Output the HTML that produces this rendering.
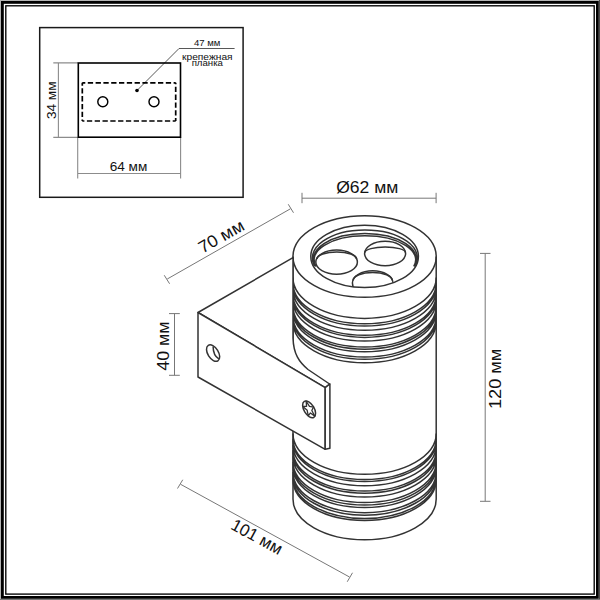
<!DOCTYPE html>
<html><head><meta charset="utf-8"><style>
html,body{margin:0;padding:0;background:#fff;width:600px;height:600px;overflow:hidden}
svg{display:block}
text{font-family:"Liberation Sans",sans-serif;fill:#111}
</style></head><body>
<svg width="600" height="600" viewBox="0 0 600 600">
<defs>
<clipPath id="open"><ellipse cx="364.6" cy="256.4" rx="53.8" ry="31.1"/></clipPath>
</defs>
<rect x="0" y="0" width="600" height="600" fill="#fff"/>
<rect x="0" y="0" width="600" height="1" fill="#b4b4b4"/>
<rect x="0" y="0" width="1" height="600" fill="#b4b4b4"/>
<rect x="599" y="0" width="1" height="600" fill="#4a4a4a"/>
<rect x="0" y="599" width="600" height="1" fill="#7a7a7a"/>
<rect x="2.4" y="2.4" width="595" height="595" fill="none" stroke="#000" stroke-width="2.8"/>
<rect x="5.8" y="5.8" width="588.4" height="588.3" fill="none" stroke="#000" stroke-width="1.35"/>

<g id="inset">
<rect x="39.7" y="27.6" width="203.4" height="169.7" fill="none" stroke="#1a1a1a" stroke-width="1.5"/>
<g stroke="#8c8c8c" stroke-width="1.1" fill="none">
 <path d="M53.3 62.9H78M53.3 137.4H78M58.4 62.4V137.6"/>
 <path d="M77.7 137V178.6M180.6 137V178.6M78 173.5H180.6"/>
</g>
<path d="M137 90.5L179 48.5H234.6" stroke="#444" stroke-width="0.9" fill="none"/>
<rect x="78.3" y="63" width="102.2" height="74.2" fill="none" stroke="#000" stroke-width="1.6"/>
<path d="M82.3 82.8H175.7M82.3 82.8V121M175.7 121H82.3M175.7 121V82.8" fill="none" stroke="#000" stroke-width="1.7" stroke-dasharray="5.3 2.5" stroke-dashoffset="2.3"/>
<circle cx="102.8" cy="101.8" r="5" fill="none" stroke="#000" stroke-width="1.45"/>
<circle cx="154" cy="101.8" r="5" fill="none" stroke="#000" stroke-width="1.45"/>
<circle cx="137" cy="90.5" r="1.8" fill="#000"/>
<text x="207.1" y="45.9" font-size="9.2" text-anchor="middle" textLength="26.4" lengthAdjust="spacingAndGlyphs">47 мм</text>
<text x="207.3" y="59.5" font-size="9.3" text-anchor="middle" textLength="50.6" lengthAdjust="spacingAndGlyphs">крепежная</text>
<text x="207.3" y="66.4" font-size="9.3" text-anchor="middle" textLength="31.3" lengthAdjust="spacingAndGlyphs">планка</text>
<text x="128.5" y="171" font-size="13.6" text-anchor="middle">64 мм</text>
<text transform="translate(55.9 100.3) rotate(-90)" font-size="13.6" text-anchor="middle">34 мм</text>
</g>

<g stroke="#777" stroke-width="1" fill="none">
 <path d="M167.25 279L290.5 208.75M164.25 275.25L169.6 283.75M288.25 204.25L293.5 212.75"/>
 <path d="M302 198.2H436.1M302 192.8V203.2M436.1 192.8V203.2"/>
 <path d="M174.5 313.6V375.3M169 313.6H179.8M169 375.3H179.8"/>
 <path d="M485.2 253.4V501.3M480 253.4H490.5M480 501.3H490.5"/>
 <path d="M180.5 484.25L349.5 577M182.75 479.75L177.5 488.5M352.5 572.75L347.25 581.75"/>
</g>
<text x="367.3" y="192.5" font-size="17" text-anchor="middle" textLength="62.2" lengthAdjust="spacingAndGlyphs">Ø62 мм</text>
<text transform="translate(224 241.5) rotate(-29.7)" font-size="17" text-anchor="middle" textLength="49.8" lengthAdjust="spacingAndGlyphs">70 мм</text>
<text transform="translate(169 346.1) rotate(-90)" font-size="17" text-anchor="middle" textLength="49.3" lengthAdjust="spacingAndGlyphs">40 мм</text>
<text transform="translate(500.8 378.85) rotate(-90)" font-size="17" text-anchor="middle" textLength="60.4" lengthAdjust="spacingAndGlyphs">120 мм</text>
<text transform="translate(254.1 541.8) rotate(28.76)" font-size="17" text-anchor="middle" textLength="55.8" lengthAdjust="spacingAndGlyphs">101 мм</text>

<g id="cyl" stroke="#333" stroke-width="1.5" fill="none">
 <path d="M293 256.5V499A71.6 40.8 0 0 0 436.2 499V256.5"/>
 <ellipse cx="364.6" cy="256.5" rx="71.6" ry="40.8"/>
 <ellipse cx="364.6" cy="256.4" rx="53.8" ry="31.1"/>
 <path d="M314.43 266.00A52.5 28.3 0 1 1 415.37 266.00M315.59 266.28A51.3 25.7 0 1 1 414.21 266.28M316.07 266.29A50.8 23.9 0 1 1 413.73 266.29"/>
 <path d="M293.00 277.60A71.6 40.8 0 0 0 436.20 277.60M293.00 282.95A71.6 40.8 0 0 0 436.20 282.95M293.00 285.30A71.6 40.8 0 0 0 436.20 285.30M293.00 289.45A71.6 40.8 0 0 0 436.20 289.45M293.00 294.45A71.6 40.8 0 0 0 436.20 294.45M293.00 296.60A71.6 40.8 0 0 0 436.20 296.60M293.00 300.20A71.6 40.8 0 0 0 436.20 300.20M293.00 306.20A71.6 40.8 0 0 0 436.20 306.20M293.00 308.40A71.6 40.8 0 0 0 436.20 308.40M293.00 310.95A71.6 40.8 0 0 0 436.20 310.95M293.00 316.20A71.6 40.8 0 0 0 436.20 316.20M293.00 318.45A71.6 40.8 0 0 0 436.20 318.45M293.00 322.00A71.6 40.8 0 0 0 436.20 322.00"/>
 <path d="M293.00 433.45A71.6 40.8 0 0 0 436.20 433.45M293.00 438.70A71.6 40.8 0 0 0 436.20 438.70M293.00 440.80A71.6 40.8 0 0 0 436.20 440.80M293.00 444.95A71.6 40.8 0 0 0 436.20 444.95M293.00 450.20A71.6 40.8 0 0 0 436.20 450.20M293.00 452.40A71.6 40.8 0 0 0 436.20 452.40M293.00 456.20A71.6 40.8 0 0 0 436.20 456.20M293.00 461.70A71.6 40.8 0 0 0 436.20 461.70M293.00 464.20A71.6 40.8 0 0 0 436.20 464.20M293.00 466.70A71.6 40.8 0 0 0 436.20 466.70M293.00 471.90A71.6 40.8 0 0 0 436.20 471.90M293.00 474.40A71.6 40.8 0 0 0 436.20 474.40M293.00 477.70A71.6 40.8 0 0 0 436.20 477.70M293.00 479.70A71.6 40.8 0 0 0 436.20 479.70"/>
 <ellipse cx="336.6" cy="262.1" rx="20.8" ry="12.1"/>
 <path d="M317 259A19.8 7 0 0 1 356.6 259"/>
 <ellipse cx="385.1" cy="253.5" rx="20.5" ry="12.3"/>
 <path d="M365 252.5A20.2 5.5 0 0 1 405.4 252.5"/>
 <g clip-path="url(#open)">
  <ellipse cx="372.7" cy="283" rx="20.3" ry="12.3"/>
  <path d="M353.1 280.5A19.6 8.1 0 0 1 392.3 280.5"/>
 </g>
</g>

<g id="bracket" stroke="#333" stroke-width="1.5" stroke-linejoin="round">
 <path d="M198 312.5L293 257.7V338C293.5 354 299 362 308 369.5L329.6 384L325.2 387.6Z" fill="#fff"/>
 <path d="M198 312.5L325.2 387.6V449.3L198 377Z" fill="#fff"/>
 <path d="M325.2 387.6L329.9 384V448.2L325.2 449.3Z" fill="#fff"/>
 <g transform="translate(213.1 353.1) rotate(-32)">
  <ellipse cx="0" cy="0" rx="5.3" ry="9.1" fill="none"/>
 </g>
 <path d="M213.1 346.4Q213.2 355.5 218.8 358.8" fill="none"/>
 <g transform="translate(309.1 409.3) rotate(-31)">
  <ellipse cx="0" cy="0" rx="5.1" ry="9.3" fill="none"/>
  <path d="M1.69 -8.70L1.78 -2.24L4.94 0.32L1.69 2.47L1.36 8.90L-0.73 3.77L-4.10 5.18L-2.14 -0.14L-3.90 -5.70L-0.59 -3.86Z" fill="none" stroke-width="1.3"/>
 </g>
</g>
</svg>
</body></html>
